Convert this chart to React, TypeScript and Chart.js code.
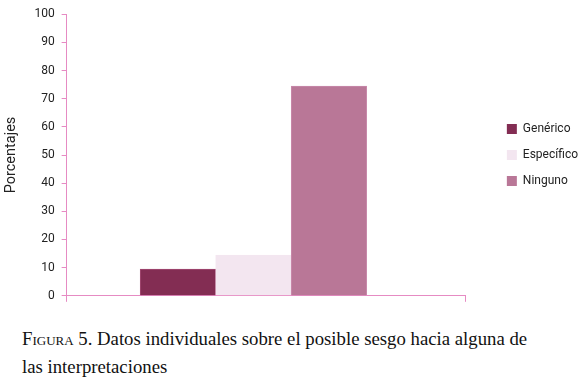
import React, { useEffect, useRef } from "react";
import { Chart, registerables } from "chart.js";

Chart.register(...registerables);

const seriesNames = ["Genérico", "Específico", "Ninguno"];
const seriesPositions = [0, 1, 2];
const seriesValues = [9.5, 14.5, 74.5];
const seriesColors = ["#832d53", "#f3e6f0", "#b97797"];
const seriesBorders = ["#a34a73", "#f3e6f0", "#c98aab"];
const yTicks = [0, 10, 20, 30, 40, 50, 60, 70, 80, 90, 100];
const yTitle = "Porcentajes";
const captionLead = "Figura 5.";
const captionLine1 = " Datos individuales sobre el posible sesgo hacia alguna de";
const captionLine2 = "las interpretaciones";

const AXIS = "#e68bc3";
const FONT = "Roboto, 'Liberation Sans', sans-serif";

const legendNudge = {
  id: "legendNudge",
  afterLayout(chart: any) {
    if (chart.legend) {
      chart.legend.top -= 3;
      chart.legend.bottom -= 3;
    }
  },
};

export default function App() {
  const ref = useRef<HTMLCanvasElement | null>(null);

  useEffect(() => {
    if (!ref.current) return;
    const xMin = -1.4735;
    const xMax = 3.813;
    const chart = new Chart(ref.current, {
      type: "bar",
      data: {
        datasets: [
          {
            label: "Sesgo",
            data: seriesNames.map((_, i) => ({ x: seriesPositions[i], y: seriesValues[i] })),
            backgroundColor: seriesColors,
            borderColor: seriesBorders,
            borderWidth: 1,
            barPercentage: 1,
            categoryPercentage: 1,
          },
        ],
      },
      plugins: [legendNudge],
      options: {
        animation: false,
        responsive: false,
        maintainAspectRatio: false,
        layout: { padding: { top: 8, right: -6, bottom: 2, left: 3 } },
        plugins: {
          legend: {
            position: "right",
            labels: {
              boxWidth: 10,
              boxHeight: 10,
              padding: 14,
              color: "#222",
              font: { family: FONT, size: 12 },
              generateLabels: () =>
                seriesNames.map((name, i) => ({
                  text: name,
                  fillStyle: seriesColors[i],
                  strokeStyle: seriesColors[i],
                  lineWidth: 0,
                  hidden: false,
                  index: i,
                  datasetIndex: 0,
                  fontColor: "#222",
                })),
            },
          },
          tooltip: { enabled: false },
        },
        scales: {
          x: {
            type: "linear",
            offset: false,
            min: xMin,
            max: xMax,
            afterBuildTicks: (scale: any) => {
              scale.ticks = [{ value: xMin }, { value: xMax }];
            },
            ticks: { display: false },
            grid: {
              offset: false,
              drawOnChartArea: false,
              drawTicks: true,
              tickLength: 6,
              color: AXIS,
            },
            border: { color: AXIS, width: 1 },
          },
          y: {
            min: 0,
            max: 100,
            afterBuildTicks: (scale: any) => {
              scale.ticks = yTicks.map((v) => ({ value: v }));
            },
            ticks: {
              color: "#222",
              font: { family: FONT, size: 12 },
              padding: 7,
            },
            title: {
              display: true,
              text: yTitle,
              color: "#222",
              font: { family: FONT, size: 14.5 },
              padding: { top: 0, bottom: 7 },
            },
            grid: {
              drawOnChartArea: false,
              drawTicks: true,
              tickLength: 5,
              color: AXIS,
            },
            border: { color: AXIS, width: 1 },
          },
          spacer: {
            type: "linear",
            position: "right",
            display: true,
            ticks: { display: false },
            grid: { display: false },
            border: { display: false },
            afterFit: (s: any) => {
              s.width = 27;
            },
          },
        },
      },
    });
    return () => chart.destroy();
  }, []);

  return (
    <div style={{ position: "absolute", left: 0, top: 0, width: 582, height: 377, background: "#fff" }}>
      <canvas ref={ref} width={582} height={310} style={{ display: "block", width: 582, height: 310 }} />
      <div
        style={{
          position: "absolute",
          left: 22,
          top: 325,
          fontFamily: "'Liberation Serif', 'DejaVu Serif', serif",
          fontSize: 18.75,
          lineHeight: "28px",
          color: "#111",
          whiteSpace: "nowrap",
        }}
      >
        <span style={{ fontVariant: "small-caps" }}>{captionLead}</span>
        {captionLine1}
        <br />
        {captionLine2}
      </div>
    </div>
  );
}
